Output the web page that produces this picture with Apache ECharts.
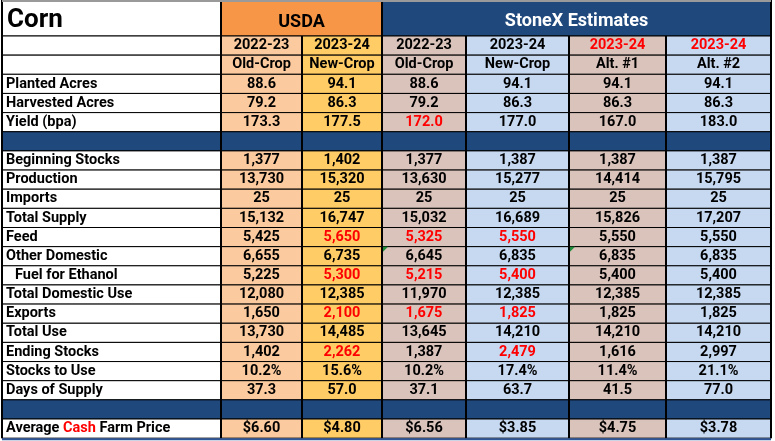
<!DOCTYPE html>
<html lang="en">
<head>
<meta charset="UTF-8">
<title>Corn</title>
<script src="https://cdn.jsdelivr.net/npm/echarts@6/dist/echarts.min.js"></script>
<style>html,body{margin:0;padding:0;background:#fff;}</style>
</head>
<body>
<div id="main" style="width:775px;height:441px;"></div>
<script type="text/javascript">

    // 表格数据
    var title = 'Corn';
    var groups = ['USDA', 'StoneX Estimates'];
    var years = ['2022-23', '2023-24', '2022-23', '2023-24', '2023-24', '2023-24'];
    var crops = ['Old-Crop', 'New-Crop', 'Old-Crop', 'New-Crop', 'Alt. #1', 'Alt. #2'];
    var rowLabels = ['Planted Acres', 'Harvested Acres', 'Yield (bpa)', '',
        'Beginning Stocks', 'Production', 'Imports', 'Total Supply', 'Feed', 'Other Domestic',
        'Fuel for Ethanol', 'Total Domestic Use', 'Exports', 'Total Use', 'Ending Stocks',
        'Stocks to Use', 'Days of Supply', '', 'Average Cash Farm Price'];
    var rowFormat = ['d1', 'd1', 'd1', '', 'int', 'int', 'int', 'int', 'int', 'int',
        'int', 'int', 'int', 'int', 'int', 'pct', 'd1', '', 'usd'];

    var usda2223 = [88.6, 79.2, 173.3, null, 1377, 13730, 25, 15132, 5425, 6655, 5225, 12080, 1650, 13730, 1402, 10.2, 37.3, null, 6.60];
    var usda2324 = [94.1, 86.3, 177.5, null, 1402, 15320, 25, 16747, 5650, 6735, 5300, 12385, 2100, 14485, 2262, 15.6, 57.0, null, 4.80];
    var sx2223 = [88.6, 79.2, 172.0, null, 1377, 13630, 25, 15032, 5325, 6645, 5215, 11970, 1675, 13645, 1387, 10.2, 37.1, null, 6.56];
    var sx2324 = [94.1, 86.3, 177.0, null, 1387, 15277, 25, 16689, 5550, 6835, 5400, 12385, 1825, 14210, 2479, 17.4, 63.7, null, 3.85];
    var sxAlt1 = [94.1, 86.3, 167.0, null, 1387, 14414, 25, 15826, 5550, 6835, 5400, 12385, 1825, 14210, 1616, 11.4, 41.5, null, 4.75];
    var sxAlt2 = [94.1, 86.3, 183.0, null, 1387, 15795, 25, 17207, 5550, 6835, 5400, 12385, 1825, 14210, 2997, 21.1, 77.0, null, 3.78];
    var columns = [usda2223, usda2324, sx2223, sx2324, sxAlt1, sxAlt2];

    // 红字单元格 [列, 行名]
    var redCells = [[1, 'Feed'], [1, 'Fuel for Ethanol'], [1, 'Exports'], [1, 'Ending Stocks'],
        [2, 'Yield (bpa)'], [2, 'Feed'], [2, 'Fuel for Ethanol'], [2, 'Exports'],
        [3, 'Feed'], [3, 'Fuel for Ethanol'], [3, 'Exports'], [3, 'Ending Stocks']];
    var redYears = [4, 5];
    // 批注小三角
    var commentCells = [[2, 'Other Domestic'], [4, 'Other Domestic']];

    // 布局 / 样式
    var colEdges = [2, 221, 302, 382, 466, 569, 666, 771];
    var titleH = 36, rowH = 19.15;
    var colBg = ['#FBCA9E', '#FFCC66', '#D9C3BB', '#C6D9F1', '#D9C3BB', '#C6D9F1'];
    var navy = '#1F497D', orange = '#F79646', red = '#FF0000';
    var FONT = 'Roboto';
    var TXT = 14.5;

    function fmt(v, f) {
        if (v === null) return '';
        if (f === 'd1') return v.toFixed(1);
        if (f === 'pct') return v.toFixed(1) + '%';
        if (f === 'usd') return '$' + v.toFixed(2);
        return v.toLocaleString('en-US');
    }
    function isIn(list, c, name) {
        return list.some(function (p) { return p[0] === c && p[1] === name; });
    }
    function rowY(i) { return titleH + i * rowH; }

    var cells = [];
    function addCell(x0, y0, x1, y1, o) {
        o.box = [x0, y0, x1, y1];
        cells.push(o);
    }

    // 标题行
    addCell(colEdges[0], 0, colEdges[1], titleH, { text: title, bg: '#fff', color: '#000', size: 26, align: 'left', pad: 5, dy: 2 });
    addCell(colEdges[1], 0, colEdges[3], titleH, { text: groups[0], bg: orange, color: '#000', size: 18, dy: 4 });
    addCell(colEdges[3], 0, colEdges[7], titleH, { text: groups[1], bg: navy, color: '#fff', size: 18, dy: 3 });
    // 年份 / 作物行
    addCell(colEdges[0], rowY(0), colEdges[1], rowY(1), { text: '', bg: '#fff' });
    addCell(colEdges[0], rowY(1), colEdges[1], rowY(2), { text: '', bg: '#fff' });
    years.forEach(function (y, c) {
        addCell(colEdges[c + 1], rowY(0), colEdges[c + 2], rowY(1), { text: y, bg: colBg[c], color: redYears.indexOf(c) >= 0 ? red : '#000', size: TXT });
        addCell(colEdges[c + 1], rowY(1), colEdges[c + 2], rowY(2), { text: crops[c], bg: colBg[c], color: '#000', size: TXT });
    });
    // 数据行
    rowLabels.forEach(function (name, r) {
        var y0 = rowY(r + 2), y1 = rowY(r + 3);
        var sep = name === '';
        var lab = { text: name, bg: sep ? navy : '#fff', color: '#000', size: TXT, align: 'left', pad: name === 'Fuel for Ethanol' ? 13 : 4 };
        if (name === 'Average Cash Farm Price') {
            lab.text = '{a|Average }{r|Cash}{a| Farm Price}';
            lab.rich = true;
        }
        addCell(colEdges[0], y0, colEdges[1], y1, lab);
        columns.forEach(function (col, c) {
            addCell(colEdges[c + 1], y0, colEdges[c + 2], y1, {
                text: fmt(col[r], rowFormat[r]),
                bg: sep ? navy : colBg[c],
                color: isIn(redCells, c, name) ? red : '#000',
                size: TXT,
                comment: isIn(commentCells, c, name)
            });
        });
    });

    var tableBottom = rowY(rowLabels.length + 2);
    // 粗竖线: [x, 起始y]
    var vLines = [[colEdges[0], 0], [colEdges[1], 0], [colEdges[2], titleH], [colEdges[3], 0],
        [colEdges[4], titleH], [colEdges[5], titleH], [colEdges[6], titleH], [colEdges[7], 0]];
    // 上下边框: [y, 颜色]
    var hLines = [[1, '#9A9A9A'], [tableBottom + 1, '#2F5597']];

    var myChart = echarts.init(document.getElementById('main'));
    var option = {
        animation: false,
        grid: { left: 0, right: 0, top: 0, bottom: 0 },
        xAxis: { type: 'value', min: 0, max: 775, show: false },
        yAxis: { type: 'value', min: 0, max: 441, inverse: true, show: false },
        series: [{
            type: 'custom',
            data: cells.map(function (c) { return c.box; }),
            renderItem: function (params, api) {
                var c = cells[params.dataIndex];
                var p0 = api.coord([api.value(0), api.value(1)]);
                var p1 = api.coord([api.value(2), api.value(3)]);
                var children = [{
                    type: 'rect',
                    shape: { x: p0[0], y: p0[1], width: p1[0] - p0[0], height: p1[1] - p0[1] },
                    style: { fill: c.bg, stroke: '#000', lineWidth: 1 }
                }];
                if (c.text) {
                    var left = c.align === 'left';
                    var st = {
                        text: c.text,
                        x: left ? p0[0] + c.pad : (p0[0] + p1[0]) / 2,
                        y: (p0[1] + p1[1]) / 2 + (c.dy || 0),
                        align: left ? 'left' : 'center',
                        verticalAlign: 'middle',
                        fill: c.color,
                        fontFamily: FONT,
                        fontWeight: 'bold',
                        fontSize: c.size
                    };
                    if (c.rich) {
                        st.rich = {
                            a: { fill: '#000', fontFamily: FONT, fontWeight: 'bold', fontSize: c.size },
                            r: { fill: red, fontFamily: FONT, fontWeight: 'bold', fontSize: c.size }
                        };
                    }
                    children.push({ type: 'text', style: st });
                }
                if (c.comment) {
                    children.push({
                        type: 'polygon',
                        shape: { points: [[p0[0], p0[1]], [p0[0] + 6, p0[1]], [p0[0], p0[1] + 6]] },
                        style: { fill: '#1E8C3A' }
                    });
                }
                return { type: 'group', children: children };
            }
        }, {
            type: 'custom',
            data: vLines,
            z: 3,
            renderItem: function (params, api) {
                var a = api.coord([api.value(0), api.value(1)]);
                var b = api.coord([api.value(0), tableBottom]);
                return {
                    type: 'line',
                    shape: { x1: a[0], y1: a[1], x2: b[0], y2: b[1] },
                    style: { stroke: '#000', lineWidth: 2 }
                };
            }
        }, {
            type: 'custom',
            data: hLines.map(function (h) { return [h[0]]; }),
            z: 4,
            renderItem: function (params, api) {
                var a = api.coord([colEdges[0], api.value(0)]);
                var b = api.coord([colEdges[colEdges.length - 1], api.value(0)]);
                return {
                    type: 'line',
                    shape: { x1: a[0], y1: a[1], x2: b[0], y2: b[1] },
                    style: { stroke: hLines[params.dataIndex][1], lineWidth: 2 }
                };
            }
        }]
    };
    myChart.setOption(option);

</script>
</body>
</html>
